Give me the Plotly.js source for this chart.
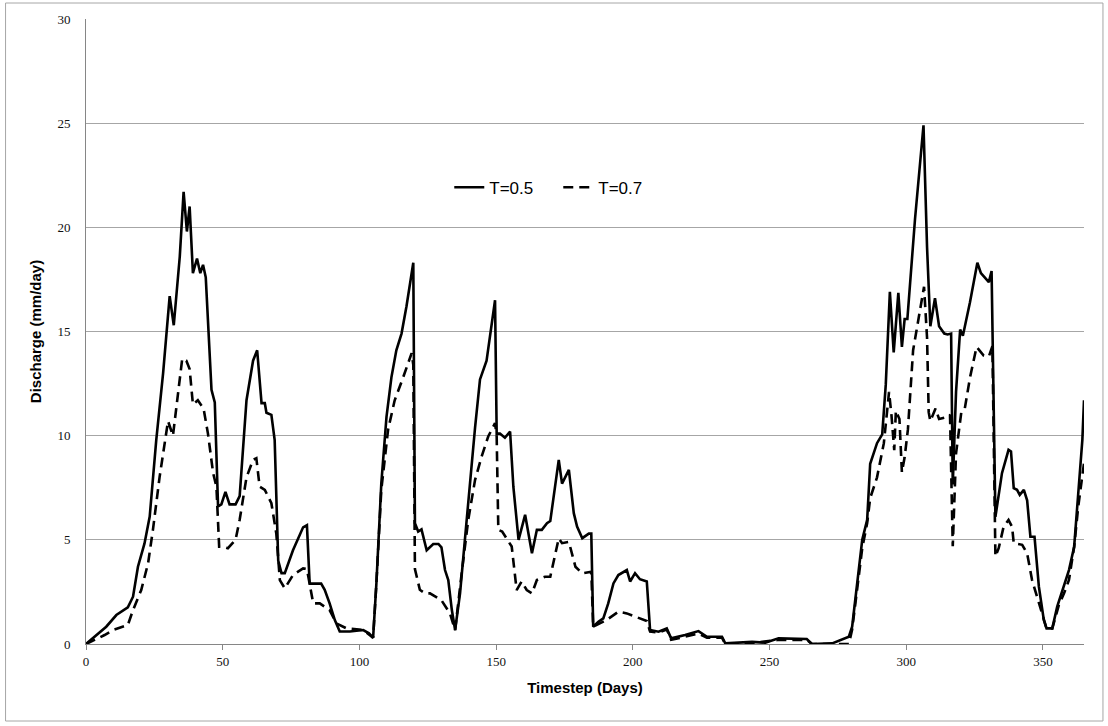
<!DOCTYPE html>
<html>
<head>
<meta charset="utf-8">
<script src="https://cdn.plot.ly/plotly-3.0.1.min.js"></script>
<style>
  html, body { margin: 0; padding: 0; background: #ffffff; }
  #chart { width: 1108px; height: 726px; }
</style>
</head>
<body>
<div id="chart"></div>
<script>
// Series T=0.5 (solid)
const daysT05 = [0,4.4,7.4,11.1,15.3,17.2,19.0,21.4,23.3,25.7,28.2,30.6,32.1,34.3,35.7,36.9,37.9,39.1,40.6,41.8,42.8,43.8,45.9,47.1,48.3,49.5,51.0,52.5,54.7,56.2,58.7,61.1,62.6,64.2,65.4,66.0,67.8,69.0,70.3,71.5,72.7,75.7,79.4,80.8,81.8,86.0,87.3,89.1,91.0,92.8,96.5,101.4,103.5,105.0,106.2,108.0,109.9,111.7,113.5,115.4,117.2,119.7,120.3,121.5,122.7,124.6,127.0,128.9,130.0,131.3,132.5,133.8,135.0,136.8,138.6,140.4,142.3,144.1,145.3,146.5,149.6,150.2,151.4,153.2,155.1,156.3,158.2,160.6,163.1,164.9,166.7,168.6,169.8,172.9,174.1,176.6,178.4,179.6,181.5,183.9,184.8,185.5,187.4,189.2,191.0,192.9,194.7,197.8,199.0,200.8,202.6,205.1,206.3,209.4,212.4,214.0,219.1,224.0,227.1,232.6,233.8,243.6,248.4,253.3,263.6,265.5,272.9,276.5,279.0,280.2,282.0,283.9,285.7,286.8,289.3,291.2,292.5,294.0,295.4,297.1,298.4,299.4,300.4,301.3,303.2,306.3,307.6,308.8,310.5,312.0,313.9,315.1,316.4,317.0,318.2,319.7,320.7,323.3,326.0,327.3,330.2,331.2,331.6,332.6,335.0,337.4,338.3,339.3,340.5,341.5,343.0,344.2,345.4,346.9,348.5,350.3,351.3,353.4,355.2,357.1,359.5,361.4,363.2,364.4,365.0];
const valuesT05 = [0,0.51,0.83,1.39,1.76,2.27,3.71,4.83,6.12,9.8,13.0,16.7,15.3,18.6,21.7,19.8,21.0,17.8,18.5,17.8,18.2,17.6,12.2,11.6,6.6,6.7,7.3,6.7,6.7,7.1,11.7,13.6,14.1,11.56,11.56,11.1,11.0,9.8,4.0,3.4,3.4,4.5,5.6,5.7,2.9,2.9,2.6,1.95,1.15,0.6,0.6,0.67,0.51,0.3,2.9,7.7,10.9,12.8,14.1,14.9,16.2,18.3,5.8,5.4,5.5,4.5,4.8,4.8,4.64,3.55,3.07,1.63,0.67,2.43,5.15,7.7,10.4,12.7,13.2,13.6,16.5,10.1,10.1,9.9,10.2,7.55,5.0,6.2,4.36,5.48,5.48,5.8,5.9,8.84,7.7,8.36,6.28,5.64,5.08,5.3,5.3,0.83,1.07,1.23,1.95,2.91,3.31,3.55,3.0,3.4,3.11,3.0,0.67,0.59,0.75,0.27,0.43,0.62,0.35,0.35,0.03,0.1,0.06,0.27,0.24,0.0,0.03,0.22,0.35,0.83,2.75,5.0,5.96,8.65,9.64,10.06,12.45,16.9,14.0,16.85,14.26,15.6,15.6,17.07,20.4,24.9,19.05,15.25,16.6,15.25,14.9,14.86,14.9,7.66,12.1,15.09,14.8,16.4,18.3,17.8,17.37,17.9,14.0,6.1,8.2,9.32,9.24,7.48,7.4,7.16,7.4,6.9,5.15,5.15,2.75,1.15,0.75,0.75,1.79,2.59,3.55,4.67,7.56,9.8,11.7];

// Series T=0.7 (dashed)
const daysT07 = [0,6.8,9.9,15.3,17.2,20.2,22.7,24.5,26.9,30.0,31.8,33.6,35.2,36.7,37.9,39.1,40.9,43.0,44.6,46.5,47.7,48.7,50.1,51.9,54.7,56.2,58.7,61.1,62.3,63.5,65.4,67.8,69.6,70.9,72.7,75.7,79.4,80.8,81.8,83.1,85.5,87.3,89.1,91.6,95.3,101.4,105.0,106.2,108.0,110.5,112.9,116.0,119.1,119.7,120.3,122.1,124.0,125.8,130.0,133.1,135.0,137.4,139.8,142.3,144.7,147.1,149.6,150.2,150.8,152.2,155.7,157.5,159.3,161.2,163.1,164.9,167.9,169.8,171.7,172.9,174.1,176.6,179.0,181.5,184.8,185.5,190.4,194.7,197.8,200.8,202.6,205.1,206.3,209.4,212.4,214.0,219.1,224.0,227.1,232.6,233.8,243.6,253.3,263.6,265.5,279.0,280.2,282.0,283.9,285.7,286.8,289.3,291.8,293.7,294.6,295.6,296.2,297.5,298.4,299.4,300.6,302.5,304.4,306.5,307.6,308.2,308.8,310.7,312.0,315.1,316.0,317.0,318.2,320.1,321.4,323.3,325.7,328.3,330.2,331.5,332.6,333.8,335.6,337.4,338.7,339.3,342.4,344.2,346.0,347.8,350.3,351.3,353.4,355.8,357.7,359.5,361.4,362.9,365.0];
const valuesT07 = [0,0.43,0.67,0.91,1.63,2.59,3.87,5.5,8.0,10.7,10.0,11.9,13.7,13.6,13.2,11.5,11.7,11.3,10.1,8.2,7.55,4.67,4.67,4.6,5.0,5.96,8.0,8.84,8.92,7.56,7.4,6.76,5.3,3.07,2.67,3.31,3.63,3.6,2.9,1.95,1.95,1.79,1.63,0.99,0.75,0.67,0.3,2.9,7.4,10.3,11.7,12.8,13.96,13.4,3.6,2.6,2.43,2.43,2.1,1.47,0.67,3.4,5.96,7.88,9.0,9.96,10.6,9.96,5.48,5.4,4.68,2.59,3.0,2.59,2.43,3.07,3.23,3.23,4.36,5.07,4.84,4.9,3.71,3.39,3.47,0.83,1.15,1.55,1.47,1.31,1.2,1.1,0.6,0.55,0.7,0.2,0.35,0.5,0.3,0.3,0.0,0.05,0.2,0.2,0.0,0.0,0.7,2.5,4.6,5.8,7.0,8.0,9.64,12.1,10.96,9.3,11.2,10.8,8.24,8.96,10.3,14.1,15.6,17.15,14.7,11.13,10.7,11.3,10.8,10.9,11.0,4.69,9.15,11.1,11.3,12.78,14.26,13.85,13.8,14.3,4.2,4.6,5.63,5.95,5.63,4.84,4.76,4.35,3.07,2.31,1.15,0.75,0.75,1.87,2.43,3.07,4.67,6.6,8.68];

const xTickVals = [0,50,100,150,200,250,300,350];
const yTickVals = [0,5,10,15,20,25,30];

const traces = [
  {
    x: daysT05, y: valuesT05, name: 'T=0.5', type: 'scatter', mode: 'lines',
    line: { color: '#000000', width: 2.6 }
  },
  {
    x: daysT07, y: valuesT07, name: 'T=0.7', type: 'scatter', mode: 'lines',
    line: { color: '#000000', width: 2.6, dash: '10px,6px' }
  }
];

const axisFont = { family: 'Liberation Serif, serif', size: 13, color: '#111111' };
const titleFont = { family: 'Liberation Sans, Arial, sans-serif', size: 15, color: '#000000', weight: 'bold' };

const layout = {
  width: 1108, height: 726,
  margin: { l: 86, r: 24, t: 19, b: 82 },
  paper_bgcolor: '#ffffff', plot_bgcolor: '#ffffff',
  showlegend: true,
  legend: {
    orientation: 'h', x: 0.364, y: 0.73, xanchor: 'left', yanchor: 'middle',
    font: { family: 'Liberation Sans, Arial, sans-serif', size: 17, color: '#000000' },
    bgcolor: 'rgba(0,0,0,0)', itemwidth: 30, entrywidth: 64, entrywidthmode: 'pixels', tracegroupgap: 0
  },
  xaxis: {
    range: [0, 365], tickvals: xTickVals, ticktext: xTickVals.map(String),
    showgrid: false, zeroline: false,
    showline: true, linecolor: '#868686', linewidth: 1,
    ticks: 'outside', ticklen: 5, tickcolor: '#868686',
    tickfont: axisFont,
    title: { text: '<b>Timestep (Days)</b>', font: titleFont, standoff: 14 }
  },
  yaxis: {
    range: [0, 30], tickvals: yTickVals, ticktext: yTickVals.map(String),
    showgrid: true, gridcolor: '#a6a6a6', gridwidth: 1, zeroline: false,
    showline: true, linecolor: '#868686', linewidth: 1,
    ticks: '', ticklabelstandoff: 12,
    tickfont: axisFont,
    title: { text: '<b>Discharge (mm/day)</b>', font: titleFont, standoff: 12 }
  },
  shapes: [
    {
      type: 'rect', xref: 'paper', yref: 'paper',
      x0: -0.0806, x1: 1.0190, y0: -0.1232, y1: 1.0256,
      line: { color: '#a6a6a6', width: 1 }, fillcolor: 'rgba(0,0,0,0)', layer: 'below'
    }
  ]
};

Plotly.newPlot('chart', traces, layout, { displayModeBar: false, staticPlot: true });
</script>
</body>
</html>
